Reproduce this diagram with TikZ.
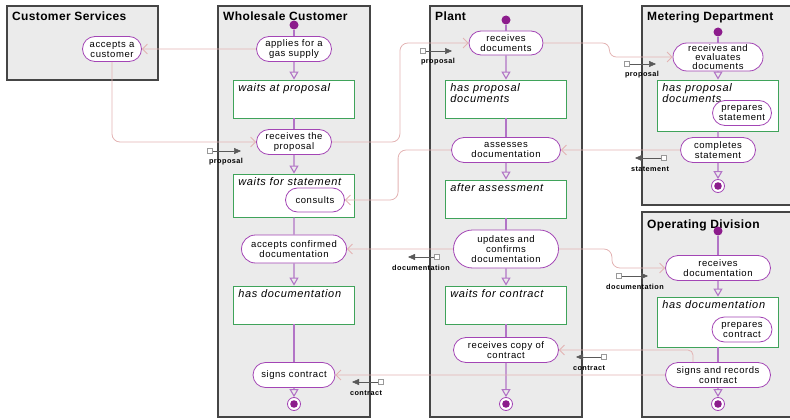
\documentclass[tikz,border=0pt]{standalone}
\usepackage{fontspec}
\setmainfont{Liberation Sans}
\newfontfamily\diagfont[LetterSpace=6]{Liberation Sans}
\newfontfamily\titlefont[LetterSpace=3]{Liberation Sans}
\usetikzlibrary{arrows.meta,positioning,shapes.misc}
\definecolor{lanegray}{HTML}{EBEBEB}
\definecolor{laneline}{HTML}{454545}
\definecolor{actline}{HTML}{A345B5}
\definecolor{boxline}{HTML}{3FA35A}
\definecolor{flowline}{HTML}{B274C6}
\definecolor{objline}{HTML}{E3B3B3}
\definecolor{dotfill}{HTML}{8C1C8C}
\tikzset{
  lane/.style={draw=laneline, fill=lanegray, line width=1.1pt},
  lanetitle/.style={anchor=base west, inner sep=0pt, font=\titlefont\fontsize{12}{12}\selectfont\bfseries},
  act/.style={rounded rectangle, draw=actline, fill=white, line width=0.8pt, align=center, inner sep=0.5pt, font=\diagfont\fontsize{9.5}{10}\selectfont},
  statebox/.style={rectangle, draw=boxline, fill=white, line width=0.8pt, minimum width=121pt, inner sep=0pt},
  stlabel/.style={anchor=north west, inner sep=0pt, xshift=5pt, yshift=-3.5pt, align=left, font=\diagfont\fontsize{11}{11.5}\selectfont\itshape},
  initdot/.style={circle, fill=dotfill, inner sep=0pt, minimum size=9pt},
  finalnode/.style={circle, draw=actline, fill=white, line width=0.8pt, inner sep=0pt, minimum size=13pt,
    path picture={\fill[dotfill] (path picture bounding box.center) circle (3.8pt);}},
  ctrl/.style={draw=flowline, line width=1.1pt},
  ctrlarr/.style={ctrl, -{Triangle[open, length=8pt, width=9pt]}},
  obj/.style={draw=objline, line width=0.8pt, rounded corners=8pt, -{Straight Barb[length=5pt, width=10pt]}},
  tokbox/.style={draw=gray!80, fill=white, line width=0.5pt, minimum size=5pt, inner sep=0pt},
  tokarr/.style={draw=gray!70!black, line width=0.5pt, -{Triangle[length=7pt, width=6pt]}},
  toklabel/.style={inner sep=0pt, font=\diagfont\fontsize{7.3}{8}\selectfont\bfseries},
}

\begin{document}
\begin{tikzpicture}[x=1pt, y=-1pt]
  \useasboundingbox (0,0) rectangle (790,420);

  % --- Swimlanes ---
  \draw[lane] (7,6) rectangle (158,80);
  \draw[lane] (218,6) rectangle (370,417);
  \draw[lane] (430,6) rectangle (582,417);
  \draw[lane] (642,6) rectangle (796,205);
  \draw[lane] (642,212) rectangle (796,417);

  \node[lanetitle] at (12,21) {Customer Services};
  \node[lanetitle] at (223,21) {Wholesale Customer};
  \node[lanetitle] at (435,21) {Plant};
  \node[lanetitle] at (647,21) {Metering Department};
  \node[lanetitle] at (647,228) {Operating Division};

  % --- Customer Services ---
  \node[act, minimum width=60pt, minimum height=25pt] (custacc) at (112,49) {accepts a\\customer};

  % --- Wholesale Customer ---
  \node[initdot] (ws0) at (294,25) {};
  \node[act, minimum width=76pt, minimum height=25pt] (apply) at (294,49) {applies for a\\gas supply};
  \node[statebox, minimum height=38pt, label={[stlabel]north west:waits at proposal}] (waitprop) at (294,99) {};
  \node[act, minimum width=76pt, minimum height=25pt] (recvprop) at (294,142) {receives the\\proposal};
  \node[statebox, minimum height=43pt, label={[stlabel]north west:waits for statement}] (waitstat) at (294,195.5) {};
  \node[act, minimum width=60pt, minimum height=24pt] (consult) at (315,200) {consults};
  \node[act, minimum width=106pt, minimum height=28pt] (acceptdoc) at (294,249) {accepts confirmed\\documentation};
  \node[statebox, minimum height=38pt, label={[stlabel]north west:has documentation}] (hasdoc) at (294,305) {};
  \node[act, minimum width=83pt, minimum height=25pt] (signs) at (294,375) {signs contract};
  \node[finalnode] (ws9) at (294,404) {};

  % --- Plant ---
  \node[initdot] (pl0) at (506,20) {};
  \node[act, minimum width=75pt, minimum height=24pt] (recvdocs) at (506,43) {receives\\documents};
  \node[statebox, minimum height=38pt, label={[stlabel]north west:has proposal\\documents}] (hasprop) at (506,99) {};
  \node[act, minimum width=110pt, minimum height=25pt] (assess) at (506,150) {assesses\\documentation};
  \node[statebox, minimum height=38pt, label={[stlabel]north west:after assessment}] (afterass) at (506,199) {};
  \node[act, minimum width=106pt, minimum height=38pt] (update) at (506,249) {updates and\\confirms\\documentation};
  \node[statebox, minimum height=38pt, label={[stlabel]north west:waits for contract}] (waitcontr) at (506,305) {};
  \node[act, minimum width=106pt, minimum height=25pt] (recvcopy) at (506,350) {receives copy of\\contract};
  \node[finalnode] (pl9) at (506,404) {};

  % --- Metering Department ---
  \node[initdot] (md0) at (718,32) {};
  \node[act, minimum width=91pt, minimum height=28pt, font=\diagfont\fontsize{9.5}{8.8}\selectfont] (evaldoc) at (718,57) {receives and\\evaluates\\documents};
  \node[statebox, minimum height=51pt, label={[stlabel]north west:has proposal\\documents}] (mdprop) at (718,105.5) {};
  \node[act, minimum width=60pt, minimum height=25pt] (prepstat) at (742,113) {prepares\\statement};
  \node[act, minimum width=76pt, minimum height=25pt] (complete) at (718,150) {completes\\statement};
  \node[finalnode] (md9) at (718,186) {};

  % --- Operating Division ---
  \node[initdot] (od0) at (718,231) {};
  \node[act, minimum width=106pt, minimum height=25pt] (recvdocu) at (718,268) {receives\\documentation};
  \node[statebox, minimum height=50pt, label={[stlabel]north west:has documentation}] (odhas) at (718,322) {};
  \node[act, minimum width=61pt, minimum height=25pt] (prepcontr) at (742,329.5) {prepares\\contract};
  \node[act, minimum width=106pt, minimum height=25pt] (signrec) at (718,375) {signs and records\\contract};
  \node[finalnode] (od9) at (718,404) {};

  % Control flow
  \foreach \a/\b in {ws0/apply, waitprop/recvprop, waitstat/acceptdoc, hasdoc/signs,
                     pl0/recvdocs, hasprop/assess, afterass/update, waitcontr/recvcopy,
                     md0/evaldoc, mdprop/complete, od0/recvdocu, odhas/signrec}
    \draw[ctrl] (\a) -- (\b);
  \foreach \a/\b in {apply/waitprop, recvprop/waitstat, acceptdoc/hasdoc, signs/ws9,
                     recvdocs/hasprop, assess/afterass, update/waitcontr, recvcopy/pl9,
                     evaldoc/mdprop, complete/md9, recvdocu/odhas, signrec/od9}
    \draw[ctrlarr] (\a) -- (\b);

  % Object flow
  \draw[obj] (apply) -- (custacc);
  \draw[obj] (custacc.south) |- (recvprop.west);
  \draw[obj] (recvprop.east) -- ++(68,0) |- (recvdocs.west);
  \draw[obj, rounded corners=7pt] (recvdocs.east) -- ++(66,0) |- (evaldoc.west);
  \draw[obj] (complete) -- (assess);
  \draw[obj] (assess.west) -- ++(-53,0) |- (consult.east);
  \draw[obj] (update) -- (acceptdoc);
  \draw[obj] (update.east) -- ++(53,0) |- (recvdocu.west);
  \draw[obj, rounded corners=5pt] ([xshift=-25pt]signrec.north) |- (recvcopy.east);
  \draw[obj] (signrec) -- (signs);

  % Object tokens
  \foreach \tn/\x/\y/\dx/\lx/\lt in {ta/210/151/31/226/proposal, tb/423/51/29/438/proposal,
      tc/627/64/29/642/proposal, td/664/158/-29/650/statement,
      te/437/257/-29/421/documentation, tf/619/276/29/635/documentation,
      tg/604/357/-28/589/contract, th/381/382/-29/366/contract}
  {
    \node[tokbox] (\tn) at (\x,\y) {};
    \coordinate (\tn-tip) at (\x+\dx,\y);
    \draw[tokarr] (\tn) -- (\tn-tip);
    \node[toklabel] (\tn-lbl) at (\lx,\y+11) {\lt};
  }
\end{tikzpicture}
\end{document}
